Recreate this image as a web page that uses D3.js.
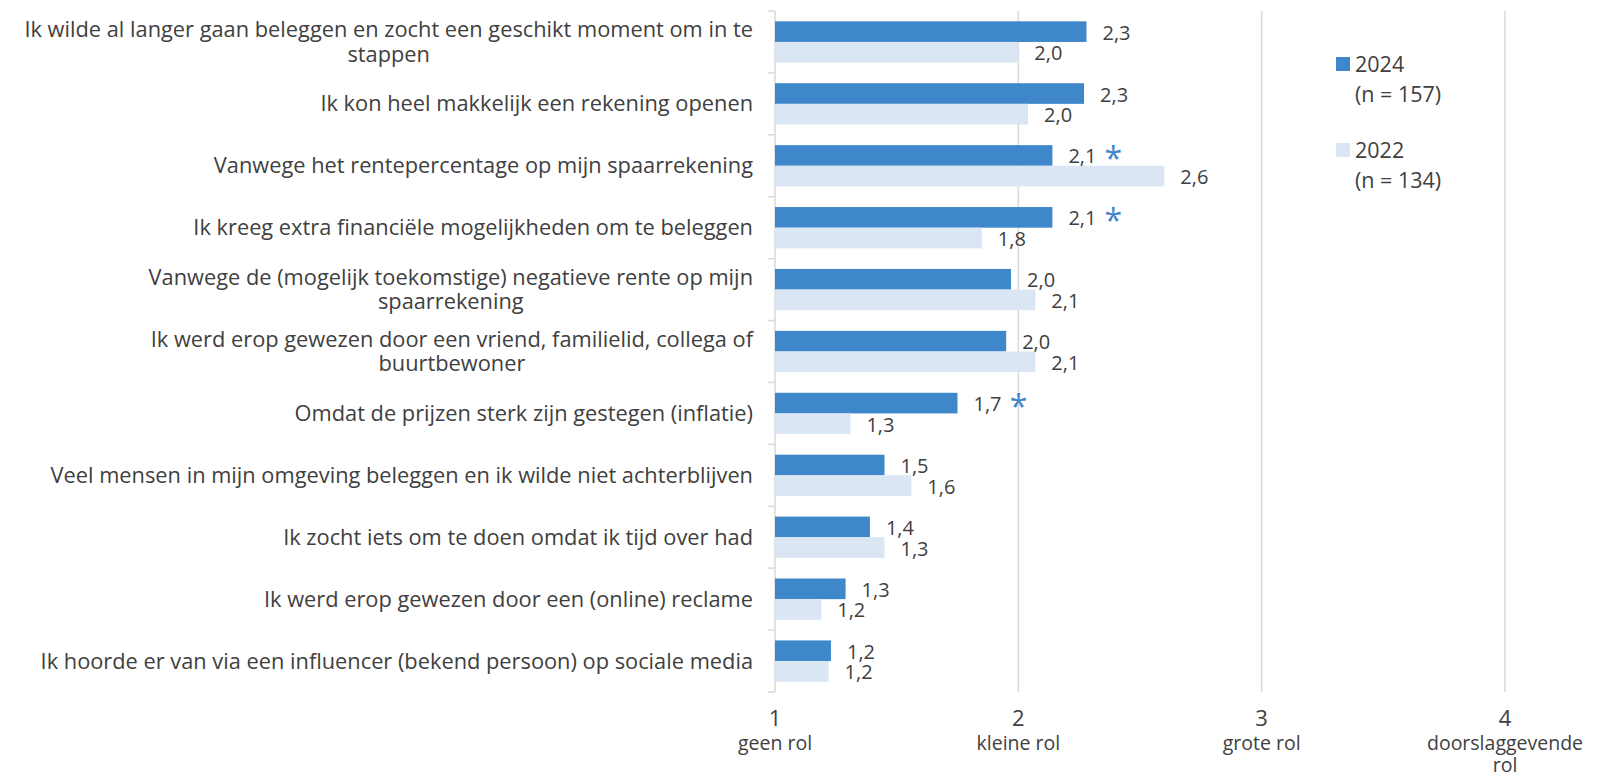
<!DOCTYPE html>
<html>
<head>
<meta charset="utf-8">
<script src="https://cdn.jsdelivr.net/npm/d3@7"></script>
<style>
  body { margin: 0; background: #fff; }
  svg { font-family: "Open Sans", "Liberation Sans", sans-serif; }
</style>
</head>
<body>
<svg id="chart" width="1608" height="778"></svg>
<script>
// reasons (each entry = lines of the label)
const categories = [
  ["Ik wilde al langer gaan beleggen en zocht een geschikt moment om in te", "stappen"],
  ["Ik kon heel makkelijk een rekening openen"],
  ["Vanwege het rentepercentage op mijn spaarrekening"],
  ["Ik kreeg extra financiële mogelijkheden om te beleggen"],
  ["Vanwege de (mogelijk toekomstige) negatieve rente op mijn", "spaarrekening"],
  ["Ik werd erop gewezen door een vriend, familielid, collega of", "buurtbewoner"],
  ["Omdat de prijzen sterk zijn gestegen (inflatie)"],
  ["Veel mensen in mijn omgeving beleggen en ik wilde niet achterblijven"],
  ["Ik zocht iets om te doen omdat ik tijd over had"],
  ["Ik werd erop gewezen door een (online) reclame"],
  ["Ik hoorde er van via een influencer (bekend persoon) op sociale media"]
];
const values2024 = [2.28, 2.27, 2.14, 2.14, 1.97, 1.95, 1.75, 1.45, 1.39, 1.29, 1.23];
const values2022 = [2.00, 2.04, 2.60, 1.85, 2.07, 2.07, 1.31, 1.56, 1.45, 1.19, 1.22];
const labels2024 = ["2,3", "2,3", "2,1", "2,1", "2,0", "2,0", "1,7", "1,5", "1,4", "1,3", "1,2"];
const labels2022 = ["2,0", "2,0", "2,6", "1,8", "2,1", "2,1", "1,3", "1,6", "1,3", "1,2", "1,2"];
const significant = [false, false, true, true, false, false, true, false, false, false, false];
const series = ["2024", "2022"];
const seriesN = ["(n = 157)", "(n = 134)"];
const ticks = [1, 2, 3, 4];
const tickLabels = [["geen rol"], ["kleine rol"], ["grote rol"], ["doorslaggevende", "rol"]];

const colors = { "2024": "#3f87cb", "2022": "#dae6f3" };
const textColor = "#404040";

const svg = d3.select("#chart");

const x = d3.scaleLinear().domain([1, 4]).range([775, 1505]);
const y = d3.scaleBand().domain(d3.range(categories.length)).range([11, 692]);
const yInner = d3.scaleBand().domain(series).range([0, y.bandwidth()]).paddingOuter(0.5);

// gridlines
svg.append("g")
  .selectAll("line")
  .data(ticks.slice(1))
  .join("line")
  .attr("x1", d => x(d)).attr("x2", d => x(d))
  .attr("y1", 11).attr("y2", 692)
  .attr("stroke", "#d9d9d9").attr("stroke-width", 1.5);

// left axis with category separators
const yAxis = svg.append("g");
yAxis.append("line")
  .attr("x1", x(1)).attr("x2", x(1))
  .attr("y1", 11).attr("y2", 692)
  .attr("stroke", "#d9d9d9").attr("stroke-width", 1.5);
yAxis.selectAll("line.sep")
  .data(d3.range(categories.length + 1))
  .join("line")
  .attr("class", "sep")
  .attr("x1", x(1) - 7).attr("x2", x(1))
  .attr("y1", d => d < categories.length ? y(d) : y(d - 1) + y.bandwidth())
  .attr("y2", d => d < categories.length ? y(d) : y(d - 1) + y.bandwidth())
  .attr("stroke", "#d9d9d9").attr("stroke-width", 1.5);

// category labels (multi-line ones centred on their widest line)
const catG = svg.append("g");
categories.forEach((lines, i) => {
  const g = catG.append("g");
  const lh = 24.5;
  const cy = y(i) + y.bandwidth() / 2;
  const texts = lines.map((l, j) => g.append("text")
    .attr("y", cy + (j - (lines.length - 1) / 2) * lh)
    .attr("dy", "0.35em")
    .attr("fill", textColor)
    .style("font-size", "21.8px")
    .text(l));
  const right = x(1) - 22;
  if (lines.length === 1) {
    texts[0].attr("x", right).attr("text-anchor", "end");
  } else {
    const w = d3.max(texts, t => t.node().getComputedTextLength());
    texts.forEach(t => t.attr("x", right - w / 2).attr("text-anchor", "middle"));
  }
});

// bars
const data = categories.map((c, i) => [
  { s: "2024", i, v: values2024[i], label: labels2024[i], sig: significant[i] },
  { s: "2022", i, v: values2022[i], label: labels2022[i], sig: false }
]).flat();

svg.append("g")
  .selectAll("rect")
  .data(data)
  .join("rect")
  .attr("x", x(1))
  .attr("y", d => y(d.i) + yInner(d.s))
  .attr("width", d => x(d.v) - x(1))
  .attr("height", yInner.bandwidth())
  .attr("fill", d => colors[d.s]);

// value labels
const lab = svg.append("g")
  .selectAll("g")
  .data(data)
  .join("g")
  .attr("transform", d => `translate(${x(d.v) + 16},${y(d.i) + yInner(d.s) + yInner.bandwidth() / 2 + 1})`);
lab.append("text")
  .attr("dy", "0.35em")
  .attr("fill", textColor)
  .style("font-size", "20px")
  .text(d => d.label);
lab.filter(d => d.sig).append("text")
  .attr("x", 45)
  .attr("dy", "0.42em")
  .attr("text-anchor", "middle")
  .attr("fill", "#3f87cb")
  .style("font-size", "32px")
  .text("*");

// x tick labels
const xt = svg.append("g")
  .selectAll("g")
  .data(ticks)
  .join("g")
  .attr("transform", d => `translate(${x(d)},0)`);
xt.append("text")
  .attr("y", 718).attr("dy", "0.35em")
  .attr("text-anchor", "middle")
  .attr("fill", textColor)
  .style("font-size", "22px")
  .text(d => d);
xt.each(function(d, i) {
  tickLabels[i].forEach((l, j) => {
    d3.select(this).append("text")
      .attr("y", 743 + j * 22.5).attr("dy", "0.35em")
      .attr("text-anchor", "middle")
      .attr("fill", textColor)
      .style("font-size", "19.5px")
      .text(l);
  });
});

// legend
const leg = svg.append("g")
  .selectAll("g")
  .data(series)
  .join("g")
  .attr("transform", (d, i) => `translate(1336,${57 + i * 86})`);
leg.append("rect")
  .attr("width", 14).attr("height", 14)
  .attr("fill", d => colors[d]);
leg.append("text")
  .attr("x", 19).attr("y", 7).attr("dy", "0.35em")
  .attr("fill", textColor)
  .style("font-size", "21.5px")
  .text(d => d);
leg.append("text")
  .attr("x", 19).attr("y", 37).attr("dy", "0.35em")
  .attr("fill", textColor)
  .style("font-size", "21.5px")
  .text((d, i) => seriesN[i]);
</script>
</body>
</html>
